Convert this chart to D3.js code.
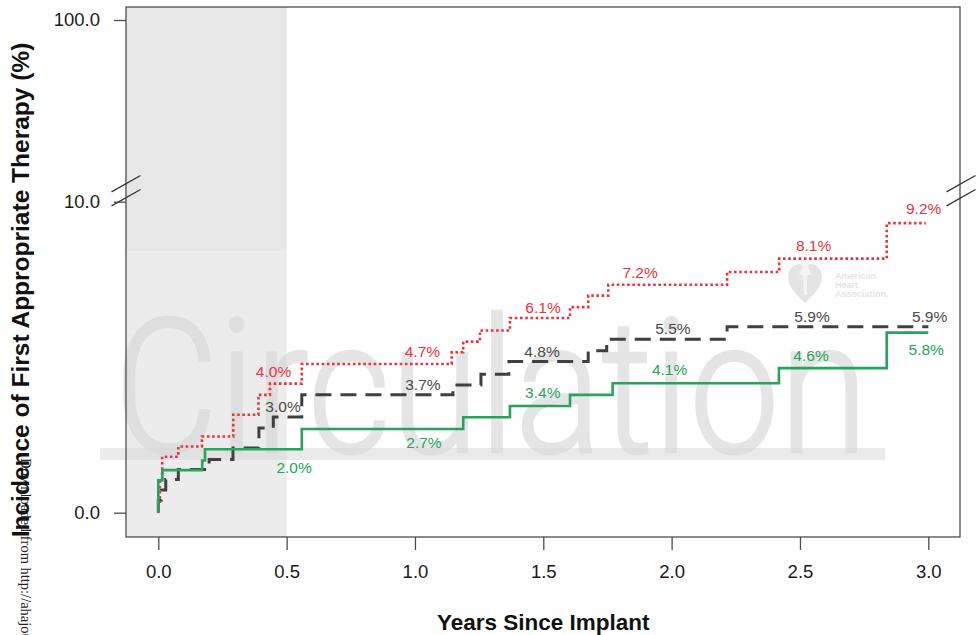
<!DOCTYPE html>
<html>
<head>
<meta charset="utf-8">
<script src="https://cdn.jsdelivr.net/npm/d3@7"></script>
<style>
  html, body { margin: 0; padding: 0; background: #fff; }
  svg { display: block; font-family: "Liberation Sans", Arial, sans-serif; }
</style>
</head>
<body>
<svg id="chart" width="976" height="635"></svg>
<script>
// axis ticks
var xTicks = [0, 0.5, 1, 1.5, 2, 2.5, 3];
var yTicks = [0, 10, 100];

// cumulative incidence (%) - step values start at each time (years)
var redTimes   = [0, 0, 0.006, 0.015, 0.078, 0.170, 0.292, 0.390, 0.435, 0.559, 1.143, 1.188, 1.253, 1.370, 1.604, 1.675, 1.753, 2.216, 2.419, 2.838, 2.99];
var redValues  = [0, 0.35, 1.00, 1.80, 2.13, 2.45, 3.15, 3.79, 4.15, 4.78, 5.16, 5.50, 5.86, 6.26, 6.61, 6.98, 7.33, 7.74, 8.17, 9.31, 9.31];

var blackTimes  = [0, 0, 0.011, 0.029, 0.078, 0.198, 0.291, 0.392, 0.448, 0.559, 1.148, 1.257, 1.366, 1.675, 1.747, 2.216, 3.0];
var blackValues = [0, 0.40, 0.73, 1.07, 1.39, 1.71, 2.08, 2.72, 3.08, 3.79, 4.11, 4.45, 4.86, 5.21, 5.58, 5.98, 5.98];

var greenTimes  = [0, 0, 0.0156, 0.171, 0.182, 0.559, 1.188, 1.370, 1.604, 1.770, 2.418, 2.838, 3.0];
var greenValues = [0, 1.04, 1.37, 1.68, 2.04, 2.69, 3.07, 3.43, 3.79, 4.16, 4.65, 5.79, 5.79];

// percentage annotations (text, anchor time, anchor value)
var redLabels   = ["4.0%", "4.7%", "6.1%", "7.2%", "8.1%", "9.2%"];
var redLabelT   = [0.449, 1.029, 1.499, 1.877, 2.553, 2.982];
var redLabelV   = [4.53, 5.20, 6.60, 7.73, 8.58, 9.77];

var blackLabels = ["3.0%", "3.7%", "4.8%", "5.5%", "5.9%", "5.9%"];
var blackLabelT = [0.486, 1.031, 1.495, 2.005, 2.547, 3.005];
var blackLabelV = [3.42, 4.14, 5.18, 5.94, 6.31, 6.31];

var greenLabels = ["2.0%", "2.7%", "3.4%", "4.1%", "4.6%", "5.8%"];
var greenLabelT = [0.529, 1.035, 1.498, 1.992, 2.543, 2.992];
var greenLabelV = [1.45, 2.26, 3.87, 4.61, 5.05, 5.26];

var shadeEnd = 0.5; // grey band covers the first half year

var svg = d3.select("#chart");

// frame of the plot region, in px
var frame = {left: 126, right: 960, top: 7, bottom: 537};

var x = d3.scaleLinear().domain([0, 3]).range([158.3, 928.3]);
// broken axis: 0-10 linear below the break, 10-100 compressed above it
var y = d3.scaleLinear().domain([0, 10, 100]).range([512.7, 201.7, 20]);

// grey shaded band
svg.append("rect")
    .attr("x", frame.left)
    .attr("y", frame.top)
    .attr("width", x(shadeEnd) - frame.left)
    .attr("height", frame.bottom - frame.top)
    .attr("fill", "#e7e7e7");

// watermark (journal name + logo), drawn behind the curves
var wm = svg.append("g").attr("class", "watermark");
wm.append("rect")
    .attr("x", 100).attr("y", 251).attr("width", 785).attr("height", frame.bottom - 251)
    .attr("fill", "#fff").attr("opacity", 0.22);
wm.append("rect")
    .attr("x", 100).attr("y", 448).attr("width", 785).attr("height", 12)
    .attr("fill", "#d8d8d8").attr("opacity", 0.55);
wm.append("text")
    .attr("x", 114).attr("y", 452)
    .attr("font-family", "Roboto, 'Liberation Sans', sans-serif")
    .attr("font-weight", 300)
    .attr("font-size", 187)
    .attr("textLength", 754)
    .attr("lengthAdjust", "spacingAndGlyphs")
    .attr("fill", "#d8d8d8")
    .attr("stroke", "#d8d8d8").attr("stroke-width", 2.5)
    .attr("opacity", 0.65)
    .text("Circulation");

var logo = wm.append("g").attr("transform", "translate(805,281)").attr("fill", "#e4e4e4");
logo.append("path")
    .attr("d", "M0,22 C-8,14 -17,6 -17,-4 C-17,-12 -11,-17 -5,-17 C-2,-17 0,-15 0,-13 C0,-15 2,-17 5,-17 C11,-17 17,-12 17,-4 C17,6 8,14 0,22 Z");
logo.append("path")
    .attr("d", "M-3,-22 C-6,-19 -4,-16 -2,-15 L-6,-6 L-2,-6 L-1,14 L2,14 L2,-6 L6,-6 L3,-15 C5,-17 3,-20 -3,-22 Z")
    .attr("fill", "#f4f4f4");
["American", "Heart", "Association."].forEach(function(w, i){
    logo.append("text")
	.attr("x", 30).attr("y", -2 + i*9)
	.attr("font-size", 9).attr("font-weight", "bold")
	.text(w);
});

// step curves
var stepLine = d3.line()
    .x(function(d){ return x(d[0]); })
    .y(function(d){ return y(d[1]); })
    .curve(d3.curveStepAfter);

function pairs(ts, vs){
    return ts.map(function(t, i){ return [t, vs[i]]; });
}

var series = [
    {cls: "black", times: blackTimes, values: blackValues, color: "#404040", width: 3, dash: "16,9",
     labels: blackLabels, lt: blackLabelT, lv: blackLabelV, text: "#4a4a4a"},
    {cls: "red", times: redTimes, values: redValues, color: "#e8343d", width: 2.6, dash: "2.6,2.6",
     labels: redLabels, lt: redLabelT, lv: redLabelV, text: "#e8343d"},
    {cls: "green", times: greenTimes, values: greenValues, color: "#27a35d", width: 2.6, dash: null,
     labels: greenLabels, lt: greenLabelT, lv: greenLabelV, text: "#27a35d"}
];

series.forEach(function(s){
    svg.append("path")
	.datum(pairs(s.times, s.values))
	.attr("class", "curve-" + s.cls)
	.attr("d", stepLine)
	.attr("fill", "none")
	.attr("stroke", s.color)
	.attr("stroke-width", s.width)
	.attr("stroke-dasharray", s.dash);
});

series.forEach(function(s){
    svg.selectAll(".lab-" + s.cls)
	.data(s.labels)
	.enter().append("text")
	.attr("class", "lab-" + s.cls)
	.attr("x", function(d, i){ return x(s.lt[i]); })
	.attr("y", function(d, i){ return y(s.lv[i]); })
	.attr("dy", "0.36em")
	.attr("text-anchor", "middle")
	.attr("font-size", 15.5)
	.attr("fill", s.text)
	.text(function(d){ return d; });
});

// plot frame
svg.append("rect")
    .attr("x", frame.left).attr("y", frame.top)
    .attr("width", frame.right - frame.left)
    .attr("height", frame.bottom - frame.top)
    .attr("fill", "none")
    .attr("stroke", "#4d4d4d")
    .attr("stroke-width", 1.3);

// axes
var yAxis = svg.append("g")
    .attr("transform", "translate(" + frame.left + ",0)")
    .call(d3.axisLeft(y).tickValues(yTicks).tickFormat(d3.format(".1f")).tickSize(12).tickPadding(14));
var xAxis = svg.append("g")
    .attr("transform", "translate(0," + frame.bottom + ")")
    .call(d3.axisBottom(x).tickValues(xTicks).tickFormat(d3.format(".1f")).tickSize(13).tickPadding(15));

[yAxis, xAxis].forEach(function(ax){
    ax.select(".domain").remove();
    ax.selectAll(".tick line").attr("stroke", "#4d4d4d").attr("stroke-width", 1.3);
    ax.selectAll(".tick text")
	.attr("font-family", "'Liberation Sans', Arial, sans-serif")
	.attr("font-size", 18.5)
	.attr("fill", "#1a1a1a");
});

// axis-break slashes on both sides, just above the 10.0 tick
var yBreak = y(10) - 11;
[frame.left, frame.right + 1].forEach(function(cx){
    [-7, 7].forEach(function(off){
	svg.append("line")
	    .attr("x1", cx - 14.5).attr("y1", yBreak + off + 8.2)
	    .attr("x2", cx + 14.5).attr("y2", yBreak + off - 8.2)
	    .attr("stroke", "#333").attr("stroke-width", 1.3);
    });
});

// axis titles
svg.append("text")
    .attr("x", x(1.5)).attr("y", 630)
    .attr("text-anchor", "middle")
    .attr("font-size", 22.5).attr("font-weight", "bold")
    .attr("fill", "#111")
    .text("Years Since Implant");

svg.append("text")
    .attr("transform", "translate(29,290) rotate(-90)")
    .attr("text-anchor", "middle")
    .attr("font-size", 24.5).attr("font-weight", "bold")
    .attr("fill", "#111")
    .text("Incidence of First Appropriate Therapy (%)");

// download stamp along the left edge
svg.append("text")
    .attr("transform", "translate(21,458) rotate(90)")
    .attr("font-family", "'Liberation Serif', 'Times New Roman', serif")
    .attr("font-size", 14.5)
    .attr("fill", "#222")
    .text("Downloaded from http://ahajournals.org/");
</script>
</body>
</html>
